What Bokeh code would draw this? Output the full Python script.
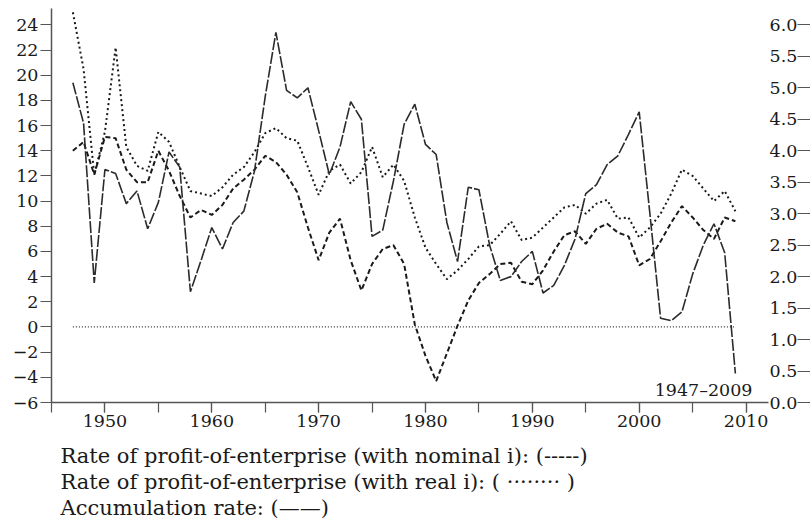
from bokeh.plotting import figure
from bokeh.models import Range1d, LinearAxis, SingleIntervalTicker, Label, Title, PrintfTickFormatter, ColumnDataSource
from bokeh.embed import file_html
from bokeh.resources import INLINE

# ---------------- data ----------------
years = list(range(1947, 2010))

# Rate of profit-of-enterprise with nominal interest (left axis, %)
nominal = [14.0, 14.7, 12.1, 15.1, 15.0, 12.5, 11.5, 11.5, 14.0, 12.4,
           10.4, 8.7, 9.3, 8.9, 9.7, 11.0, 11.7, 12.5, 13.6, 13.1,
           12.1, 10.7, 7.9, 5.3, 7.5, 8.6, 5.3, 2.9, 5.0, 6.2,
           6.5, 5.0, 0.2, -2.3, -4.3, -2.1, 0.1, 2.1, 3.5, 4.2,
           5.0, 5.1, 3.6, 3.4, 4.5, 6.0, 7.3, 7.6, 6.6, 7.8,
           8.2, 7.5, 7.2, 4.9, 5.4, 6.8, 8.3, 9.6, 8.7, 7.7,
           7.0, 8.7, 8.4]

# Rate of profit-of-enterprise with real interest (left axis, %)
real = [25.0, 20.5, 12.1, 15.5, 22.2, 14.3, 12.8, 12.4, 15.5, 14.7,
        12.7, 10.8, 10.6, 10.4, 11.1, 12.1, 12.7, 13.9, 15.4, 15.8,
        15.0, 14.8, 12.7, 10.5, 12.4, 12.9, 11.4, 12.3, 14.3, 11.9,
        12.9, 11.6, 8.7, 6.3, 5.0, 3.8, 4.5, 5.4, 6.4, 6.5,
        7.4, 8.4, 6.9, 7.1, 7.9, 8.7, 9.5, 9.7, 9.0, 9.8,
        10.1, 8.6, 8.7, 7.1, 7.9, 9.0, 10.6, 12.5, 12.0, 11.0,
        10.0, 10.8, 9.2]

# Accumulation rate (right axis, %)
accumulation = [5.08, 4.44, 1.90, 3.70, 3.64, 3.16, 3.36, 2.76, 3.18, 3.98,
                3.74, 1.76, 2.26, 2.78, 2.44, 2.86, 3.04, 3.68, 4.86, 5.88,
                4.96, 4.84, 5.00, 4.32, 3.62, 4.06, 4.78, 4.50, 2.64, 2.74,
                3.52, 4.42, 4.74, 4.10, 3.94, 2.86, 2.24, 3.42, 3.38, 2.50,
                1.94, 2.00, 2.24, 2.40, 1.74, 1.86, 2.18, 2.60, 3.32, 3.46,
                3.78, 3.92, 4.26, 4.62, 3.00, 1.34, 1.30, 1.44, 2.04, 2.50,
                2.84, 2.38, 0.46]

left_ticks_minus = [-6, -4, -2]

legend_texts = [
    "Rate of profit-of-enterprise (with nominal i): (-----)",
    "Rate of profit-of-enterprise (with real i): ( \u00b7\u00b7\u00b7\u00b7\u00b7\u00b7\u00b7\u00b7 )",
    "Accumulation rate: (\u2014\u2014)",
]

FONT = "DejaVu Serif"
INK = "#1a1a1a"
AXIS = "#555555"

src = ColumnDataSource(dict(year=years, nominal=nominal, real=real, acc=accumulation))

p = figure(frame_width=717, frame_height=394, output_backend="svg", toolbar_location=None,
           x_range=Range1d(1945, 2012.1), y_range=Range1d(-6, 25.3),
           min_border_left=51, min_border_right=42, min_border_top=8,
           min_border_bottom=0, x_axis_type=None, y_axis_type=None)
p.title.visible = False
p.outline_line_color = None
p.xgrid.visible = False
p.ygrid.visible = False
p.extra_y_ranges = {"acc": Range1d(0, (25.3 + 6) / 5)}

TICK_FS = "17.5px"

# x axis
xax = LinearAxis(ticker=SingleIntervalTicker(interval=10, num_minor_ticks=2))
xax.axis_line_color = AXIS
xax.axis_line_width = 1.5
xax.major_tick_line_color = AXIS
xax.minor_tick_line_color = AXIS
xax.major_tick_line_width = 1.2
xax.minor_tick_line_width = 1.2
xax.major_tick_in = 0
xax.major_tick_out = 10
xax.minor_tick_in = 0
xax.minor_tick_out = 10
xax.major_label_standoff = 2
xax.major_label_text_font = FONT
xax.major_label_text_font_size = TICK_FS
xax.major_label_text_color = INK
p.add_layout(xax, "below")

# left axis
yax = LinearAxis(ticker=SingleIntervalTicker(interval=2, num_minor_ticks=0))
yax.axis_line_color = AXIS
yax.axis_line_width = 1.5
yax.major_tick_line_color = AXIS
yax.major_tick_line_width = 1.2
yax.major_tick_in = 0
yax.major_tick_out = 11
yax.minor_tick_line_color = None
yax.major_label_standoff = 2
yax.major_label_text_font = FONT
yax.major_label_text_font_size = TICK_FS
yax.major_label_text_color = INK
yax.major_label_overrides = {v: "\u2212" + str(-v) for v in left_ticks_minus}
p.add_layout(yax, "left")

# right axis (accumulation rate), labels left of ticks
rax = LinearAxis(y_range_name="acc", ticker=SingleIntervalTicker(interval=0.5, num_minor_ticks=0),
                 formatter=PrintfTickFormatter(format="%.1f"))
rax.axis_line_color = None
rax.major_tick_line_color = AXIS
rax.major_tick_line_width = 1.2
rax.major_tick_in = -29
rax.major_tick_out = 42
rax.minor_tick_line_color = None
rax.major_label_standoff = -41
rax.major_label_text_font = FONT
rax.major_label_text_font_size = TICK_FS
rax.major_label_text_color = INK
p.add_layout(rax, "right")

# zero reference line
p.line(x=[years[0], years[-1]], y=[0, 0], line_color="#333333", line_width=1.2, line_dash="1 2")

# series
p.line("year", "nominal", source=src, line_color=INK, line_width=2, line_dash="5 3")
p.line("year", "real", source=src, line_color=INK, line_width=2, line_dash="2 3")
p.line("year", "acc", source=src, y_range_name="acc", line_color="#2b2b2b", line_width=1.6,
       line_dash="12 2")

# period annotation
p.add_layout(Label(x=years[-1] + 1.6, y=-5.0, text=f"{years[0]}\u2013{years[-1]}",
                   text_align="right", text_baseline="alphabetic",
                   text_font=FONT, text_font_size=TICK_FS, text_color=INK))

# small gap between the x axis and the legend block
p.add_layout(Title(text=" ", standoff=9, text_font_size="1px"), "below")

# legend text lines below the x axis
for txt in legend_texts:
    p.add_layout(Title(text=txt, align="left", offset=9, standoff=0,
                       text_font=FONT, text_font_size="21px", text_font_style="normal",
                       text_line_height=0.9, text_color=INK), "below")

open("out.html", "w").write(file_html(p, INLINE))
